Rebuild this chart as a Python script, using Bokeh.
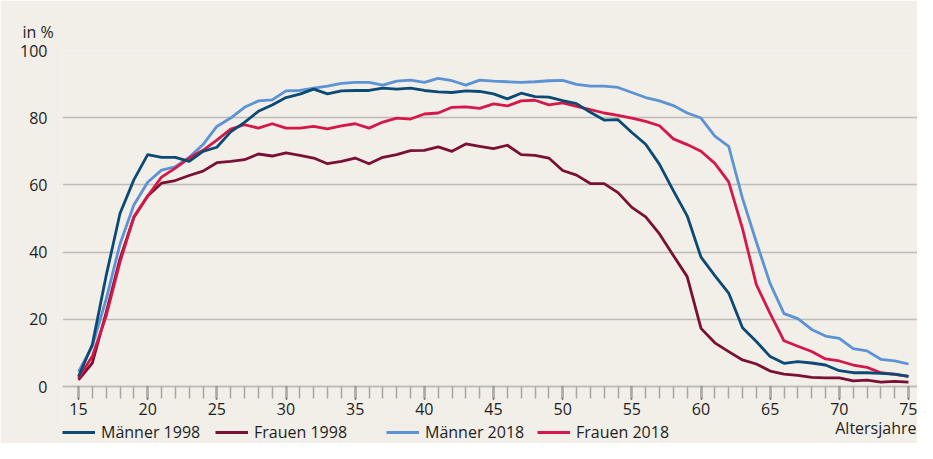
from bokeh.plotting import figure
from bokeh.models import (Range1d, FixedTicker, Label, Legend, LegendItem)
from bokeh.embed import file_html
from bokeh.resources import INLINE

# ---------------- data ----------------
ages = list(range(15, 76))

maenner_1998 = [3, 12.5, 33, 51.5, 61.5, 69, 68.2, 68.2, 67, 70,
                71.2, 75.8, 78.6, 81.9, 83.8, 86, 87, 88.5, 87.1, 88,
                88.1, 88.1, 88.8, 88.5, 88.8, 88.1, 87.7, 87.5, 88, 87.8,
                87.1, 85.6, 87.3, 86.3, 86.1, 85.1, 84.2, 81.6, 79.3, 79.4,
                75.6, 72.1, 66.1, 58.3, 50.8, 38.5, 33, 27.8, 17.5, 13.4,
                8.9, 6.9, 7.4, 7.0, 6.4, 4.7, 4.1, 4.1, 3.9, 3.7, 3.0]

frauen_1998 = [2, 7, 22, 38, 50.3, 56.7, 60.5, 61.3, 62.8, 64.1,
               66.6, 67, 67.5, 69.2, 68.6, 69.5, 68.8, 68, 66.3, 67,
               68, 66.3, 68.2, 69, 70.2, 70.3, 71.3, 70, 72.2, 71.5,
               70.8, 71.8, 69, 68.8, 68, 64.3, 62.9, 60.4, 60.4, 57.7,
               53.3, 50.5, 45.4, 39, 32.7, 17.3, 13, 10.4, 7.9, 6.7,
               4.6, 3.7, 3.3, 2.7, 2.6, 2.6, 1.7, 1.9, 1.3, 1.5, 1.3]

maenner_2018 = [4.4, 12, 26, 42.4, 54, 60.8, 64.4, 65.4, 68.2, 72,
                77.4, 79.9, 83.1, 85, 85.3, 88, 88.1, 88.8, 89.4, 90.2,
                90.5, 90.5, 89.7, 90.9, 91.2, 90.5, 91.7, 91, 89.7, 91.2,
                90.9, 90.7, 90.5, 90.7, 91, 91.1, 89.9, 89.4, 89.4, 89,
                87.5, 86, 85, 83.6, 81.4, 79.9, 74.5, 71.5, 56, 43,
                30.6, 21.7, 20.2, 17, 15, 14.3, 11.3, 10.6, 8.1, 7.6, 6.7]

frauen_2018 = [2.5, 9, 21, 37, 50.5, 56.7, 62.3, 65, 68, 70.3,
               73.3, 76.6, 77.9, 76.9, 78.2, 76.9, 76.9, 77.4, 76.7, 77.6,
               78.2, 76.9, 78.7, 79.9, 79.6, 81.1, 81.4, 83.1, 83.2, 82.8,
               84.1, 83.5, 85, 85.2, 83.8, 84.4, 83.4, 82.4, 81.4, 80.7,
               79.9, 78.9, 77.6, 73.7, 72, 70, 66.4, 60.9, 47, 30.3,
               21.7, 13.6, 12, 10.4, 8.2, 7.6, 6.4, 5.7, 4.1, 3.6, 3.0]

x_major_ticks = list(range(15, 76, 5))
y_ticks = [0, 20, 40, 60, 80, 100]

series_names = ["Männer 1998", "Frauen 1998", "Männer 2018", "Frauen 2018"]

# ---------------- styles ----------------
BG = "#f2eee8"
FONT = "Open Sans"
FS = "16px"
TXT = "#1e1e1e"
GRID = "#bdbcb8"
colors = {
    "Männer 1998": "#0b4a75",
    "Frauen 1998": "#7a1033",
    "Männer 2018": "#5b93d4",
    "Frauen 2018": "#d5184a",
}

X_LO, X_HI = 13.843, 75.65
Y_LO, Y_HI = -16.96, 100

p = figure(width=917, height=443, output_backend="svg", toolbar_location=None,
           x_range=Range1d(X_LO, X_HI), y_range=Range1d(Y_LO, Y_HI),
           min_border_left=62, min_border_right=0,
           min_border_top=50, min_border_bottom=0)
p.background_fill_color = BG
p.border_fill_color = BG
p.outline_line_color = None

# "in %" as a title above the frame
p.title.text = "in %"
p.title.align = "left"
p.title.offset = -40
p.title.standoff = 15
p.title.text_font = FONT
p.title.text_font_size = FS
p.title.text_font_style = "normal"
p.title.text_color = TXT

# grid
p.xgrid.grid_line_color = None
p.ygrid.ticker = FixedTicker(ticks=y_ticks)
p.ygrid.grid_line_color = GRID
p.ygrid.grid_line_width = 1.5

# y axis
p.yaxis.ticker = FixedTicker(ticks=y_ticks)
p.yaxis.axis_line_color = None
p.yaxis.major_tick_line_color = None
p.yaxis.minor_tick_line_color = None
p.yaxis.major_label_standoff = 9
p.yaxis.major_label_text_font = FONT
p.yaxis.major_label_text_font_size = FS
p.yaxis.major_label_text_color = TXT

# x axis, placed at value 0
p.xaxis.fixed_location = 0
p.xaxis.ticker = FixedTicker(ticks=x_major_ticks, minor_ticks=ages)
p.xaxis.axis_line_color = GRID
p.xaxis.axis_line_width = 1.5
p.xaxis.major_tick_line_color = "#222222"
p.xaxis.major_tick_line_width = 1.5
p.xaxis.major_tick_in = 0
p.xaxis.major_tick_out = 13
p.xaxis.minor_tick_line_color = "#a8a6a2"
p.xaxis.minor_tick_line_width = 1.5
p.xaxis.minor_tick_in = 0
p.xaxis.minor_tick_out = 12
p.xaxis.major_label_standoff = 3
p.xaxis.major_label_text_font = FONT
p.xaxis.major_label_text_font_size = FS
p.xaxis.major_label_text_color = TXT

# lines
data = {
    "Männer 1998": maenner_1998,
    "Frauen 1998": frauen_1998,
    "Männer 2018": maenner_2018,
    "Frauen 2018": frauen_2018,
}
renderers = {}
for name in ["Frauen 1998", "Männer 2018", "Frauen 2018", "Männer 1998"]:
    renderers[name] = p.line(ages, data[name], line_color=colors[name],
                             line_width=2.8, line_join="round")

# axis caption
p.add_layout(Label(x=X_HI, y=-12.3, x_offset=-1, text="Altersjahre",
                   text_align="right", text_baseline="middle",
                   text_font=FONT, text_font_size=FS, text_color=TXT))

# legend (one per item to reproduce the irregular spacing)
offsets = [0, 153, 324, 475]
for name, dx in zip(series_names, offsets):
    lg = Legend(items=[LegendItem(label=name, renderers=[renderers[name]])],
                location=(dx, 0), orientation="horizontal")
    lg.background_fill_alpha = 0
    lg.border_line_alpha = 0
    lg.padding = 0
    lg.margin = 0
    lg.spacing = 0
    lg.glyph_width = 33
    lg.glyph_height = 16
    lg.label_height = 16
    lg.label_standoff = 6
    lg.label_text_font = FONT
    lg.label_text_font_size = FS
    lg.label_text_color = TXT
    p.add_layout(lg)

open("out.html", "w").write(file_html(p, INLINE))
